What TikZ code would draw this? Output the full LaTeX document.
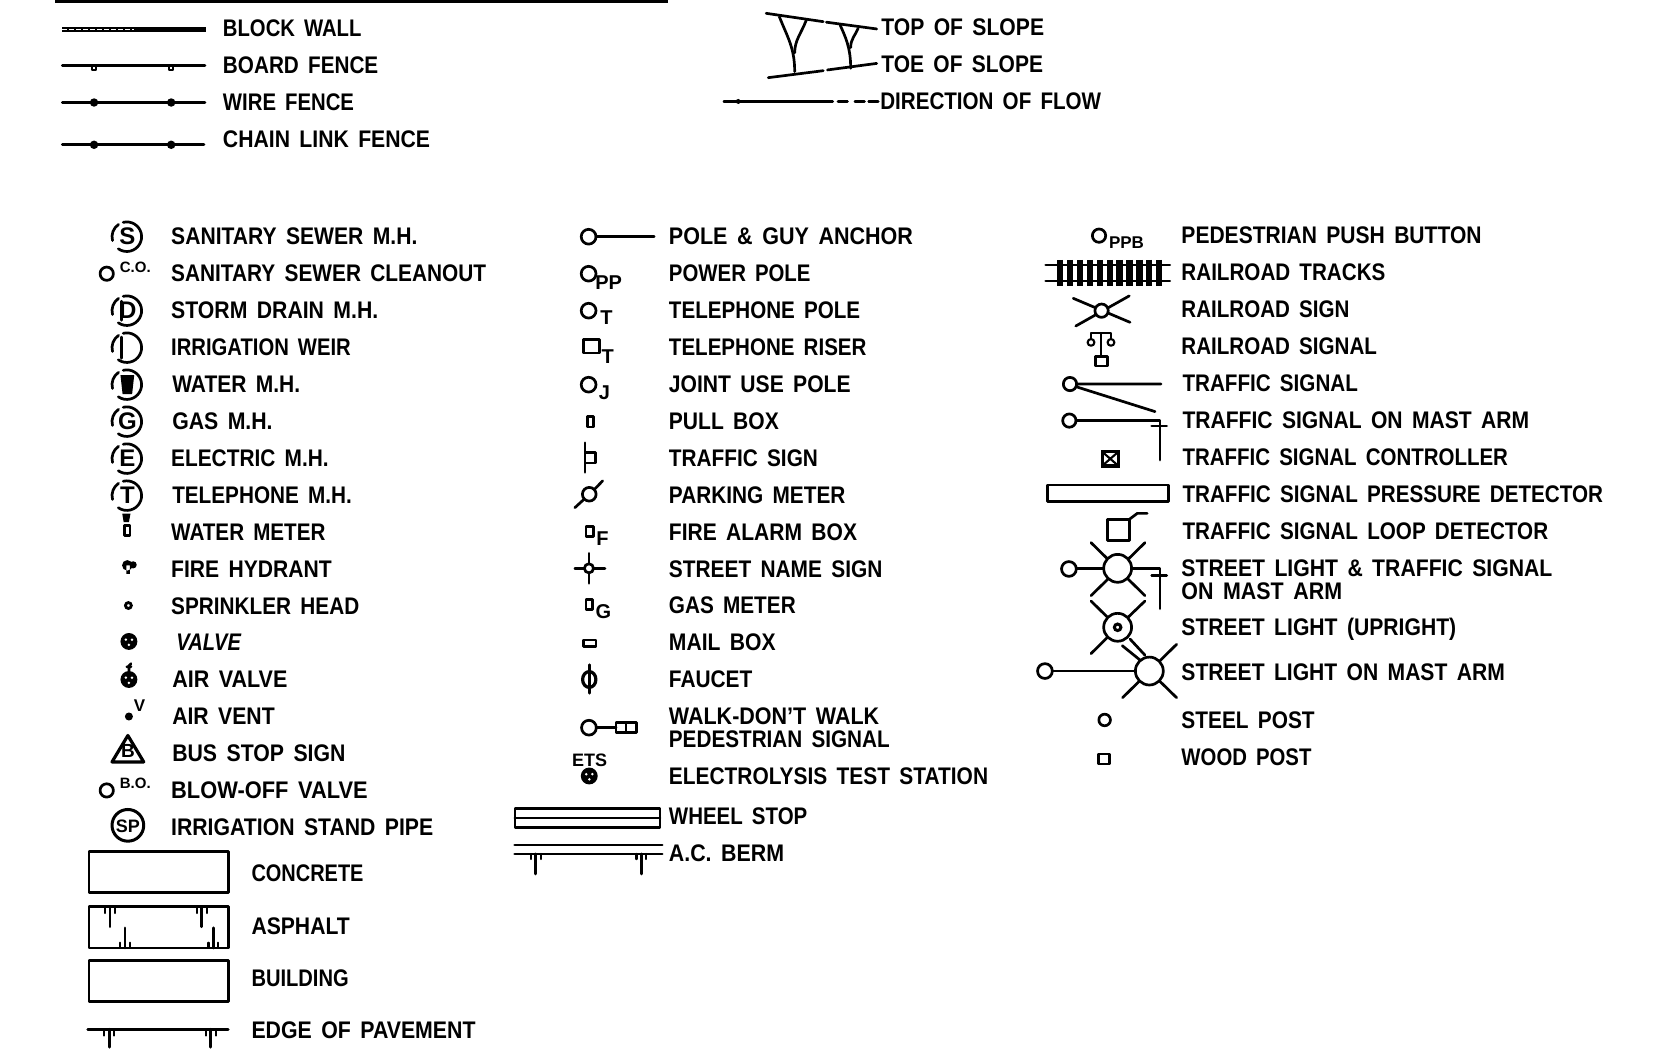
\documentclass[tikz,border=0pt]{standalone}
\usepackage{graphicx}
\usepackage{fontspec}
\setmainfont{Liberation Sans}[WordSpace=1.6]
\tikzset{
  lab/.style={anchor=base west,inner sep=0pt,outer sep=0pt,font=\fontsize{24}{24}\selectfont\bfseries},
  stxt/.style={inner sep=0pt,outer sep=0pt,font=\bfseries},
  sym/.style={line width=2.7pt,line cap=round,line join=round},
  thin sym/.style={line width=2.1pt,line cap=round,line join=round},
  hole/.style={fill=white,draw=black,line width=2.7pt},
}
\newlength{\labw}
% name, x, y centre, x end, text
\newcommand{\lab}[5]{%
  \pgfmathsetlength{\labw}{(#4-#2)*1.0568}%
  \node[lab] (#1) at (#2,#3+7.6) {\resizebox{\labw}{\height}{#5}};}
% name, x, y, size, text
\newcommand{\stx}[5]{\node[stxt,font=\fontsize{#4}{#4}\selectfont\bfseries] (#1) at (#2,#3) {#5};}
% broken manhole circle
\newcommand{\mhc}[2]{%
  \begin{scope}[shift={(#1,#2)},yscale=-1]
    \draw[sym] (104:14) arc[start angle=104,end angle=-125,radius=14];
    \draw[sym] (124:14) arc[start angle=124,end angle=195,radius=14];
  \end{scope}}
% valve ball
\newcommand{\vball}[2]{%
  \fill (#1,#2) circle[radius=8];
  \fill[white] (#1-2.9,#2-1.7) circle[radius=1.3] (#1+2.9,#2-1.7) circle[radius=1.3] (#1,#2+3.2) circle[radius=1.3];}
% tick with two side ticks, x, base y, long end y, short end y
\newcommand{\tick}[4]{%
  \draw[sym] (#1,#2) -- (#1,#3);
  \draw[thin sym] (#1-4.7,#2) -- (#1-4.7,#4) (#1+4.7,#2) -- (#1+4.7,#4);}
\begin{document}
\begin{tikzpicture}[x=1.0568pt,y=-1.0568pt]
\useasboundingbox (0,0) rectangle (1568,992);
\fill[white] (0,0) rectangle (1568,992);

% ---------- top rule
\draw[line width=3.4pt] (52,1) -- (632,1);

% ---------- top-left legend
\draw[line width=5pt] (59,28) -- (195,28);
\draw[white,line width=1.2pt,dash pattern=on 5pt off 2pt] (59,28) -- (127,28);
\draw[sym] (59,62) -- (194,62);
\draw[thin sym,fill=white] (87,62) rectangle (91,66) (160,62) rectangle (164,66);
\draw[sym] (59,97) -- (194,97);
\fill (89,97) circle[radius=4] (162,97) circle[radius=4];
\draw[sym] (59,137) -- (193,137);
\fill (89,137) circle[radius=4] (162,137) circle[radius=4];
\lab{t1}{211}{27}{342}{BLOCK WALL}
\lab{t2}{211}{62}{358}{BOARD FENCE}
\lab{t3}{211}{97}{335}{WIRE FENCE}
\lab{t4}{211}{132}{407}{CHAIN LINK FENCE}

% ---------- slope
\draw[sym] (725,12.6) -- (779,20.5) (782,21) -- (829.6,27.4);
\draw[sym] (727,73.5) -- (779,66.9) (783,66.2) -- (829.6,60);
\draw[sym] (737.5,15.8) .. controls (745,35) and (752,45) .. (752,67.8);
\draw[sym] (763,19) .. controls (758,32) and (752,38) .. (752,50);
\draw[sym] (795,23.7) .. controls (800,35) and (805,45) .. (805,64.6);
\draw[sym] (812,26.8) .. controls (809,34) and (805,37) .. (805,45);
\draw[sym] (685,96) -- (788,96);
\draw[thin sym] (699,94.5) -- (696,96) -- (699,97.5);
\draw[sym] (793,96) -- (802,96) (809,96) -- (818,96) (822,96) -- (831,96);
\lab{t5}{834}{26}{988}{TOP OF SLOPE}
\lab{t6}{834}{61}{987}{TOE OF SLOPE}
\lab{t7}{833}{96}{1042}{DIRECTION OF FLOW}

% ---------- column 1 symbols
\mhc{120}{224} \stx{s1}{120.5}{224}{24}{S}
\draw[sym] (101,259) circle[radius=6.3];
\stx{s2}{128}{253}{15}{C.O.}
\mhc{120}{294} \stx{s3}{121}{294}{24}{D}
\draw[sym] (115,285) -- (115,303);
\mhc{120}{329} \draw[sym] (115,319) -- (115,339);
\mhc{120}{364} \fill (114,355) -- (127,355) -- (125,373) -- (116,373) -- cycle;
\mhc{120}{399} \stx{s4}{120.5}{399}{24}{G}
\mhc{120}{434} \stx{s5}{120.5}{434}{24}{E}
\mhc{120}{469} \stx{s6}{120.5}{469}{24}{T}
\fill (115.7,486) -- (123.5,486) -- (122,494) -- (117,494) -- cycle;
\draw[sym] (117.5,497) rectangle (123,507);
\fill (120.5,535) circle[radius=5] (126,534.5) circle[radius=3.4] (119.5,535) rectangle (123,543);
\draw[line width=2.8pt] (121.5,573) circle[radius=2.8];
\vball{122}{607}
\vball{122}{643}
\draw[sym] (122,636) -- (122,630) -- (124,628) (120,631) -- (124,631);
\fill (122,678) circle[radius=3.8];
\stx{s7}{132}{668}{17}{V}
\draw[sym,line width=3.2pt] (121,696) -- (136,721) -- (106,721) -- cycle;
\stx{s8}{121}{711}{19}{B}
\draw[sym] (101,748) circle[radius=6.3];
\stx{s9}{128}{741}{15}{B.O.}
\draw[sym,line width=3pt] (121,781) circle[radius=15];
\stx{s10}{121}{782}{18}{SP}

\draw[sym] (84.3,806) rectangle (216,844.5);
\draw[sym] (84.3,858) rectangle (216,897);
\tick{104}{858}{877}{864}
\tick{190.8}{858}{877}{864}
\tick{118.3}{897}{878}{892}
\tick{202}{897}{878}{892}
\draw[sym] (84.3,909) rectangle (216,948);
\draw[sym] (83,974) -- (216,974);
\tick{103.4}{974}{991}{980}
\tick{199.4}{974}{991}{980}

% column 1 labels
\lab{a1}{162}{224}{395}{SANITARY SEWER M.H.}
\lab{a2}{162}{259}{460}{SANITARY SEWER CLEANOUT}
\lab{a3}{162}{294}{358}{STORM DRAIN M.H.}
\lab{a4}{162}{329}{332}{IRRIGATION WEIR}
\lab{a5}{163}{364}{284}{WATER M.H.}
\lab{a6}{163}{399}{258}{GAS M.H.}
\lab{a7}{162}{434}{311}{ELECTRIC M.H.}
\lab{a8}{163}{469}{333}{TELEPHONE M.H.}
\lab{a9}{162}{504}{308}{WATER METER}
\lab{a10}{162}{539}{314}{FIRE HYDRANT}
\lab{a11}{162}{574}{340}{SPRINKLER HEAD}
\lab{a12}{167}{608}{228}{\itshape VALVE}
\lab{a13}{163}{643}{272}{AIR VALVE}
\lab{a14}{163}{678}{260}{AIR VENT}
\lab{a15}{163}{713}{327}{BUS STOP SIGN}
\lab{a16}{162}{748}{348}{BLOW-OFF VALVE}
\lab{a17}{162}{783}{410}{IRRIGATION STAND PIPE}
\lab{a18}{238}{827}{344}{CONCRETE}
\lab{a19}{238}{877}{331}{ASPHALT}
\lab{a20}{238}{926}{330}{BUILDING}
\lab{a21}{238}{975}{450}{EDGE OF PAVEMENT}

% ---------- column 2 symbols
\draw[sym] (564,224) -- (619,224);
\draw[sym] (557,224) circle[radius=7];
\draw[sym] (557,259) circle[radius=7]; \stx{b1}{576}{267}{20}{PP}
\draw[sym] (557,294) circle[radius=7]; \stx{b2}{574}{301}{20}{T}
\draw[sym] (552,321) rectangle (567,334); \stx{b3}{575}{337}{20}{T}
\draw[sym] (557,364) circle[radius=7]; \stx{b4}{572}{372}{20}{J}
\draw[sym] (555.7,394) rectangle (561.4,404);
\draw[sym] (553.6,419) -- (553.6,447);
\draw[sym] (553.6,428) rectangle (563.7,438);
\draw[sym] (544,480.4) -- (552.6,472.5);
\draw[sym] (562.6,463) -- (570.3,455);
\draw[sym] (557.6,467.7) circle[radius=6.5];
\draw[sym] (554.5,498.4) rectangle (561.4,507.8); \stx{b5}{570}{510}{20}{F}
\draw[sym] (544,537.8) -- (572.5,537.8) (557.3,523.6) -- (557.3,552);
\draw[hole] (557.3,537.8) circle[radius=4.3];
\draw[sym] (554.5,567) rectangle (560.8,577); \stx{b6}{571}{579}{20}{G}
\draw[sym] (552,605.6) rectangle (564,612);
\draw[sym] (557.6,629) -- (557.6,656);
\draw[sym,line width=3.2pt] (557.6,643) ellipse[x radius=6.3,y radius=7.5];
\draw[sym] (564.3,688.6) -- (583,688.6);
\draw[sym] (557.3,688.6) circle[radius=7];
\draw[sym] (583,684) rectangle (602,693) (592.4,684) -- (592.4,693);
\stx{b7}{558}{719}{18}{ETS}
\vball{557.6}{734.3}
\draw[sym] (487.3,765) rectangle (624.5,783) (487.3,774) -- (624.5,774);
\draw[sym] (487,799.6) -- (626.6,799.6) (487,808) -- (626.6,808);
\tick{507}{808}{827}{813}
\tick{607}{808}{827}{813}

% column 2 labels
\lab{c1}{633}{224}{864}{POLE \& GUY ANCHOR}
\lab{c2}{633}{259}{767}{POWER POLE}
\lab{c3}{633}{294}{814}{TELEPHONE POLE}
\lab{c4}{633}{329}{820}{TELEPHONE RISER}
\lab{c5}{633}{364}{805}{JOINT USE POLE}
\lab{c6}{633}{399}{737}{PULL BOX}
\lab{c7}{633}{434}{774}{TRAFFIC SIGN}
\lab{c8}{633}{469}{800}{PARKING METER}
\lab{c9}{633}{504}{811}{FIRE ALARM BOX}
\lab{c10}{633}{539}{835}{STREET NAME SIGN}
\lab{c11}{633}{573}{753}{GAS METER}
\lab{c12}{633}{608}{734}{MAIL BOX}
\lab{c13}{633}{643}{712}{FAUCET}
\lab{c14}{633}{678}{832}{WALK-DON'T WALK}
\lab{c15}{633}{700}{842}{PEDESTRIAN SIGNAL}
\lab{c16}{633}{735}{935}{ELECTROLYSIS TEST STATION}
\lab{c17}{633}{773}{764}{WHEEL STOP}
\lab{c18}{633}{808}{742}{A.C. BERM}

% ---------- column 3 symbols
\draw[sym] (1040,223) circle[radius=6.3]; \stx{d1}{1066}{230}{17}{PPB}
\draw[sym] (989.5,250.8) -- (1107,250.8) (989.5,266) -- (1107,266);
\foreach \tx in {1003,1012.4,1021.8,1031.2,1040.6,1050,1059.4,1068.8,1078.2,1087.6,1097}
  \draw[line width=6.2pt] (\tx,246) -- (\tx,270.3);
\draw[sym] (1015.6,282.3) -- (1069.3,305) (1018,308.5) -- (1068.6,280);
\draw[hole] (1042.4,294) circle[radius=6.3];
\draw[thin sym] (1032.4,320.5) -- (1032.4,315.4) -- (1051.3,315.4) -- (1051.3,320.5);
\draw[thin sym] (1041.8,315.4) -- (1041.8,337.5);
\draw[thin sym] (1032.4,324) circle[radius=3.2] (1051.3,324) circle[radius=3.2];
\draw[sym] (1036.8,337.5) rectangle (1047.8,346.4);
\draw[sym] (1019,363.4) -- (1098.6,363.4) (1018.5,366) -- (1093,389.5);
\draw[sym] (1012.5,363.4) circle[radius=6.3];
\draw[sym] (1018.2,398) -- (1097.6,398) -- (1097.6,435.3) (1089.8,403) -- (1104,403);
\draw[sym] (1011.9,398) circle[radius=6.3];
\fill (1041.5,425.8) rectangle (1059.8,442.5);
\fill[white] (1044.5,428.8) rectangle (1056.8,439.5);
\draw[thin sym] (1044.5,428.8) -- (1056.8,439.5) (1044.5,439.5) -- (1056.8,428.8);
\draw[sym] (991.4,459) rectangle (1105.5,474.7);
\draw[sym] (1047.8,491.4) rectangle (1068.7,511.6);
\draw[sym] (1068.7,491.4) -- (1076.2,485.8) -- (1085.6,485.8);

\draw[sym] (1032.4,513.5) -- (1083.5,563.7) (1083.5,513.5) -- (1032.4,563.7);
\draw[sym] (1018.5,538) -- (1044,538) (1071,538) -- (1097.6,538) -- (1097.6,576) (1089.8,544.7) -- (1104,544.7);
\draw[hole] (1057.6,537.8) circle[radius=13.2];
\draw[sym] (1011.5,538.4) circle[radius=7];

\draw[sym] (1032.4,568.7) -- (1057.6,593.6) (1083.5,568.7) -- (1057.6,593.6) (1032.4,618.5) -- (1057.6,593.6);
\draw[hole] (1057.6,593.6) circle[radius=13.2];
\draw[line width=3pt] (1057.6,593.6) circle[radius=3.1];
\draw[sym] (1062,611) -- (1078.7,624.5) (1069.3,604.7) -- (1083.5,620);

\draw[sym] (1113.4,609.7) -- (1062.3,660.2) (1113.4,660.2) -- (1087.6,635);
\draw[sym] (995.8,635) -- (1075,635);
\draw[hole] (1087.6,635) circle[radius=13.2];
\draw[sym] (988.8,635) circle[radius=7];

\draw[sym] (1045.3,681.3) circle[radius=5.5];
\draw[sym] (1039.6,713.5) rectangle (1049.7,723);

% column 3 labels
\lab{e1}{1118}{223}{1402}{PEDESTRIAN PUSH BUTTON}
\lab{e2}{1118}{258}{1311}{RAILROAD TRACKS}
\lab{e3}{1118}{293}{1277}{RAILROAD SIGN}
\lab{e4}{1118}{328}{1303}{RAILROAD SIGNAL}
\lab{e5}{1119}{363}{1285}{TRAFFIC SIGNAL}
\lab{e6}{1119}{398}{1447}{TRAFFIC SIGNAL ON MAST ARM}
\lab{e7}{1119}{433}{1427}{TRAFFIC SIGNAL CONTROLLER}
\lab{e8}{1119}{468}{1517}{TRAFFIC SIGNAL PRESSURE DETECTOR}
\lab{e9}{1119}{503}{1465}{TRAFFIC SIGNAL LOOP DETECTOR}
\lab{e10}{1118}{538}{1469}{STREET LIGHT \& TRAFFIC SIGNAL}
\lab{e11}{1118}{560}{1270}{ON MAST ARM}
\lab{e12}{1118}{594}{1378}{STREET LIGHT (UPRIGHT)}
\lab{e13}{1118}{636}{1424}{STREET LIGHT ON MAST ARM}
\lab{e14}{1118}{682}{1244}{STEEL POST}
\lab{e15}{1118}{717}{1241}{WOOD POST}
\end{tikzpicture}
\end{document}
